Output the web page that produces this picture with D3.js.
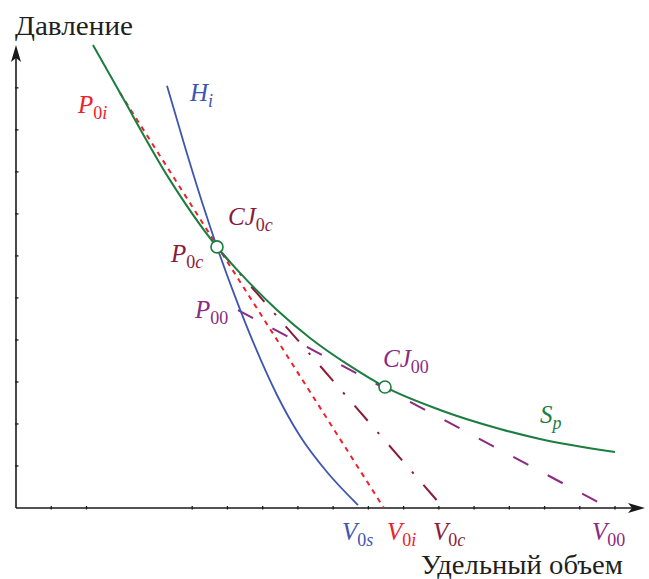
<!DOCTYPE html>
<html>
<head>
<meta charset="utf-8">
<script src="https://cdn.jsdelivr.net/npm/d3@7"></script>
<style>
  body { margin: 0; background: #fff; }
  svg { display: block; }
</style>
</head>
<body>
<div id="chart"></div>
<script>
// curve S_p (specific volume, pressure)
const spV = [2.185, 2.951, 4.313, 5.704, 6.356, 7.406, 8.343, 9.478, 10.471, 12.032, 13.735, 14.87, 17.0];
const spP = [11.02, 9.881, 7.881, 6.214, 5.595, 4.714, 4.048, 3.381, 2.881, 2.333, 1.881, 1.643, 1.333];

// curve H_i
const hiV = [4.285, 4.796, 5.306, 5.704, 6.215, 6.782, 7.406, 8.059, 8.825, 9.705];
const hiP = [10.05, 8.595, 7.214, 6.214, 5.036, 3.845, 2.69, 1.714, 0.857, 0.071];

// straight rays
const rayP0i = [[2.95, 9.88], [10.44, 0]];
const rayP0c = [[5.70, 6.21], [12.08, 0.05]];
const rayP00 = [[6.30, 4.71], [16.52, 0.14]];

// CJ points
const cjPoints = [[5.704, 6.214], [10.471, 2.881]];

const xTicks = [1, 2, 5, 6, 7, 8, 9, 10, 11, 12, 13, 14, 15, 16, 17];
const yTicks = [1, 2, 3, 4, 5, 6, 7, 8, 9, 10];

const colors = {
  green: '#1b7d3f',
  blue: '#3d56b2',
  red: '#ee2229',
  darkred: '#8a1b3b',
  purple: '#8b2a82'
};

const serif = "Liberation Serif";

const width = 649, height = 579;
const x0 = 16, y0 = 508;

const xScale = d3.scaleLinear().domain([0, 17.85]).range([x0, 645]);
const yScale = d3.scaleLinear().domain([0, 11.02]).range([y0, 45]);

const svg = d3.select("#chart").append("svg")
  .attr("width", width)
  .attr("height", height);

// axes
svg.append("line")
  .attr("x1", x0).attr("y1", y0).attr("x2", 640).attr("y2", y0)
  .attr("stroke", "#1a1a1a").attr("stroke-width", 1.6);
svg.append("line")
  .attr("x1", x0).attr("y1", y0).attr("x2", x0).attr("y2", 52)
  .attr("stroke", "#1a1a1a").attr("stroke-width", 1.6);

// arrow heads
svg.append("path")
  .attr("d", `M${x0},45 L${x0 + 5},62 L${x0},58 L${x0 - 5},62 Z`)
  .attr("fill", "#1a1a1a");
svg.append("path")
  .attr("d", `M645,${y0} L628,${y0 - 5} L632,${y0} L628,${y0 + 5} Z`)
  .attr("fill", "#1a1a1a");

// ticks
svg.selectAll(".xtick")
  .data(xTicks)
  .enter()
  .append("line")
  .attr("class", "xtick")
  .attr("x1", d => xScale(d)).attr("x2", d => xScale(d))
  .attr("y1", y0 - 2).attr("y2", y0 + 1.5)
  .attr("stroke", "#1a1a1a").attr("stroke-width", 1.3);

svg.selectAll(".ytick")
  .data(yTicks)
  .enter()
  .append("line")
  .attr("class", "ytick")
  .attr("y1", d => yScale(d)).attr("y2", d => yScale(d))
  .attr("x1", x0 - 1).attr("x2", x0 + 2.5)
  .attr("stroke", "#1a1a1a").attr("stroke-width", 1.3);

const line = d3.line()
  .x(d => xScale(d[0]))
  .y(d => yScale(d[1]));

const smooth = d3.line()
  .x(d => xScale(d[0]))
  .y(d => yScale(d[1]))
  .curve(d3.curveMonotoneX);

// rays
svg.append("path")
  .attr("d", line(rayP0i))
  .attr("fill", "none")
  .attr("stroke", colors.red)
  .attr("stroke-width", 2)
  .attr("stroke-dasharray", "5,5");

svg.append("path")
  .attr("d", line(rayP0c))
  .attr("fill", "none")
  .attr("stroke", colors.darkred)
  .attr("stroke-width", 2)
  .attr("stroke-dasharray", "20,15,2.5,15");

svg.append("path")
  .attr("d", line(rayP00))
  .attr("fill", "none")
  .attr("stroke", colors.purple)
  .attr("stroke-width", 2)
  .attr("stroke-dasharray", "17,22");

// H_i
svg.append("path")
  .attr("d", smooth(hiV.map((v, i) => [v, hiP[i]])))
  .attr("fill", "none")
  .attr("stroke", colors.blue)
  .attr("stroke-width", 1.8);

// S_p
svg.append("path")
  .attr("d", smooth(spV.map((v, i) => [v, spP[i]])))
  .attr("fill", "none")
  .attr("stroke", colors.green)
  .attr("stroke-width", 2);

svg.selectAll(".cj")
  .data(cjPoints)
  .enter()
  .append("circle")
  .attr("class", "cj")
  .attr("cx", d => xScale(d[0]))
  .attr("cy", d => yScale(d[1]))
  .attr("r", 6)
  .attr("fill", "#fff")
  .attr("stroke", colors.green)
  .attr("stroke-width", 1.6);

// axis titles
svg.append("text")
  .attr("x", 15).attr("y", 35)
  .attr("font-family", serif)
  .attr("font-size", 27)
  .attr("textLength", 118)
  .attr("lengthAdjust", "spacingAndGlyphs")
  .attr("fill", "#231f20")
  .text("Давление");

svg.append("text")
  .attr("x", 421).attr("y", 574)
  .attr("font-family", serif)
  .attr("font-size", 27)
  .attr("textLength", 202)
  .attr("lengthAdjust", "spacingAndGlyphs")
  .attr("fill", "#231f20")
  .text("Удельный объем");

// labels: main letter(s), subscript parts [text, italic]
const labels = [
  {x: 190, y: 101, main: "H", sub: [["i", true]], color: colors.blue},
  {x: 78, y: 113, main: "P", sub: [["0", false], ["i", true]], color: colors.red},
  {x: 228, y: 225, main: "CJ", sub: [["0", false], ["c", true]], color: colors.darkred},
  {x: 171, y: 262, main: "P", sub: [["0", false], ["c", true]], color: colors.darkred},
  {x: 195, y: 318, main: "P", sub: [["00", false]], color: colors.purple},
  {x: 383, y: 367, main: "CJ", sub: [["00", false]], color: colors.purple},
  {x: 540, y: 423, main: "S", sub: [["p", true]], color: colors.green},
  {x: 342, y: 540, main: "V", sub: [["0", false], ["s", true]], color: colors.blue},
  {x: 387, y: 540, main: "V", sub: [["0", false], ["i", true]], color: colors.red},
  {x: 433, y: 540, main: "V", sub: [["0", false], ["c", true]], color: colors.darkred},
  {x: 592, y: 540, main: "V", sub: [["00", false]], color: colors.purple}
];

labels.forEach(function(l) {
  const t = svg.append("text")
    .attr("x", l.x).attr("y", l.y)
    .attr("font-family", serif)
    .attr("fill", l.color)
    .attr("font-size", 25);
  t.append("tspan")
    .attr("font-style", "italic")
    .text(l.main);
  l.sub.forEach(function(s, i) {
    const sp = t.append("tspan")
      .attr("font-size", 18)
      .attr("font-style", s[1] ? "italic" : "normal")
      .text(s[0]);
    if (i == 0) sp.attr("dy", 6);
  });
});
</script>
</body>
</html>
